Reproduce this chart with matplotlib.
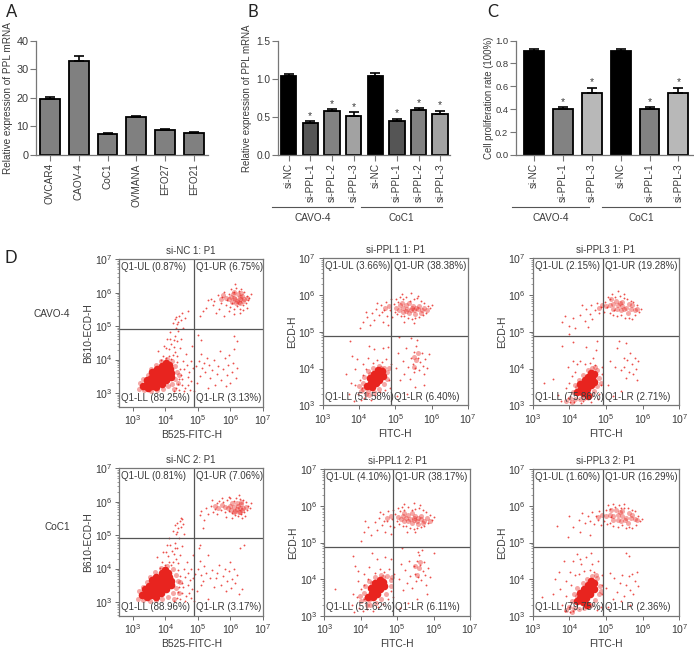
import numpy as np
import matplotlib
matplotlib.use("Agg")
import matplotlib.pyplot as plt
from matplotlib.lines import Line2D
from matplotlib.transforms import blended_transform_factory

plt.rcParams["font.family"] = ["Liberation Sans", "DejaVu Sans"]
plt.rcParams["mathtext.default"] = "regular"

W, H = 694, 650
TXT = "#3a3a3a"
RED = "#e8241f"

# bar charts
a_labels = ["OVCAR4", "CAOV-4", "CoC1", "OVMANA", "EFO27", "EFO21"]
a_values = [19.5, 33.0, 7.5, 13.2, 8.8, 7.8]
a_errors = [0.7, 1.6, 0.3, 0.4, 0.4, 0.3]

b_labels = ["si-NC", "si-PPL-1", "si-PPL-2", "si-PPL-3"] * 2
b_values = [1.03, 0.42, 0.57, 0.51, 1.04, 0.45, 0.59, 0.54]
b_errors = [0.03, 0.02, 0.03, 0.05, 0.03, 0.02, 0.02, 0.04]
b_colors = ["#000000", "#555555", "#828282", "#a2a2a2"] * 2

c_labels = ["si-NC", "si-PPL-1", "si-PPL-3"] * 2
c_values = [0.91, 0.40, 0.54, 0.91, 0.40, 0.54]
c_errors = [0.02, 0.015, 0.045, 0.02, 0.015, 0.045]
c_colors = ["#000000", "#828282", "#b8b8b8"] * 2

# flow panels, log10 values
nc1_core = [(3.3,3.2),(3.42,3.26),(3.54,3.33),(3.66,3.4),(3.78,3.48),(3.9,3.56),(4.02,3.64),(4.14,3.72),(3.42,3.38),(3.54,3.46),(3.66,3.54),(3.78,3.62),(3.9,3.7),(4.02,3.78),(4.1,3.85),(3.6,3.62),(3.75,3.72),(3.9,3.82),(4.02,3.9),(3.45,3.16),(3.58,3.22),(3.7,3.28),(3.82,3.36),(3.94,3.44),(4.06,3.52),(4.18,3.6),(3.72,3.18),(3.88,3.28),(4.02,3.38),(4.16,3.48)]
nc1_mid = [(3.18,3.12),(3.22,3.3),(3.32,3.42),(3.45,3.55),(3.55,3.72),(3.7,3.85),(3.85,3.95),(4.05,4.02),(4.2,3.95),(4.3,3.8),(4.35,3.62),(4.3,3.42),(4.2,3.28),(4.08,3.2),(3.92,3.12),(3.75,3.08),(3.55,3.06),(3.35,3.08),(4.42,3.55),(4.4,3.3),(4.25,3.12),
           (6.12,5.85),(6.2,5.75),(6.3,5.8),(6.35,5.9),(6.42,5.8),(6.22,5.95),(6.02,5.88),(5.85,5.85),(6.3,5.7),(6.15,5.8),(6.25,5.72),(6.28,5.86),(6.38,5.76),(6.08,5.95),(5.95,5.8),(5.78,5.92),(6.18,5.68),(6.5,5.85),(6.12,6.02),(6.32,6.0),(5.7,5.82),(6.05,5.72)]
nc1_dots = [(4.02,4.05),(4.10,4.32),(4.18,4.48),(3.92,4.12),(3.85,3.98),(4.05,4.61),(4.22,4.15),(4.28,4.71),(4.31,4.95),(4.38,5.12),(4.42,5.31),(4.29,5.22),(4.35,5.05),(4.47,5.18),(4.51,5.40),(4.25,4.38),(4.13,4.82),(4.02,4.35),(3.78,4.25),(4.35,4.55),(4.40,4.85),(4.18,4.03),(4.30,4.22),(4.48,4.62),(4.55,4.95),(4.22,5.08),(4.60,5.25),(4.70,5.45),(4.44,4.35),(4.10,4.12),(3.95,4.42),(4.33,5.28),(4.27,4.58),(4.15,4.62),(4.37,4.12),
            (4.45,3.72),(4.52,3.41),(4.61,3.15),(4.72,3.62),(4.38,3.28),(4.65,3.85),(4.80,3.35),(4.55,3.95),(4.42,3.08),(4.75,3.1),(4.85,3.75),(4.48,3.55),(4.68,3.48),(4.58,3.72),(4.32,3.15),(4.88,3.05),(4.25,3.05),(4.78,3.95),(4.62,4.18),(4.82,4.4),(4.5,3.25),(4.35,3.92),(4.7,3.25),(4.41,3.42),(4.57,3.05),
            (5.25,5.55),(5.4,5.82),(5.5,5.75),(5.62,5.92),(5.7,5.7),(5.75,5.88),(5.8,6.02),(5.85,5.62),(5.9,5.78),(5.95,5.95),(6.0,5.58),(6.02,6.1),(6.05,5.7),(6.1,6.02),(6.12,5.52),(6.18,6.15),(6.2,5.6),(6.25,6.05),(6.28,5.5),(6.32,6.12),(6.38,5.62),(6.42,6.02),(6.48,5.68),(6.52,5.9),(6.55,5.78),(6.58,5.85),(6.62,5.95),(5.15,5.45),(5.05,5.3),(5.55,5.4),(5.8,5.3),(6.1,5.35),(6.3,5.38),(5.65,5.5),(5.95,5.45),(6.4,5.48),(6.5,5.55),(5.3,5.78),(5.45,5.62),(6.15,6.25),
            (4.95,3.82),(5.02,3.95),(5.08,4.18),(5.12,3.75),(5.18,3.9),(5.22,3.62),(5.28,4.05),(5.35,3.85),(5.38,3.45),(5.42,3.7),(5.48,4.0),(5.52,3.25),(5.58,3.58),(5.62,3.82),(5.68,4.25),(5.72,3.4),(5.78,3.72),(5.82,4.05),(5.85,3.2),(5.88,3.55),(5.92,3.85),(5.95,4.15),(6.0,3.3),(6.05,3.62),(6.08,3.9),(6.12,4.32),(6.18,3.45),(6.2,3.75),(5.1,4.6),(5.0,4.75),(6.1,4.7),(6.2,4.55),(5.3,3.15),(4.98,3.3),(5.05,3.52)]

nc2_core = [(3.28,3.2),(3.4,3.26),(3.52,3.34),(3.64,3.42),(3.76,3.5),(3.88,3.58),(4.0,3.66),(4.12,3.74),(3.38,3.4),(3.5,3.48),(3.62,3.56),(3.74,3.64),(3.86,3.72),(3.98,3.82),(4.08,3.88),(3.58,3.66),(3.72,3.76),(3.88,3.86),(4.0,3.95),(3.42,3.14),(3.56,3.2),(3.68,3.28),(3.8,3.36),(3.92,3.46),(4.06,3.54),(4.18,3.62),(3.7,3.16),(3.86,3.26),(4.02,3.38),(4.18,3.5)]
nc2_mid = [(3.15,3.1),(3.2,3.32),(3.3,3.46),(3.42,3.6),(3.52,3.76),(3.68,3.9),(3.85,4.02),(4.05,4.08),(4.22,4.0),(4.32,3.82),(4.38,3.62),(4.32,3.42),(4.22,3.26),(4.08,3.16),(3.9,3.1),(3.72,3.06),(3.52,3.04),(3.32,3.06),(4.45,3.6),(4.42,3.28),(4.26,3.1),
           (6.12,5.85),(6.2,5.78),(6.28,5.82),(6.32,5.92),(6.4,5.82),(6.2,5.95),(6.0,5.88),(5.82,5.85),(6.28,5.7),(6.15,5.72),(6.25,5.68),(6.24,5.88),(6.36,5.74),(6.05,5.96),(5.92,5.8),(5.75,5.9),(6.1,5.7),(6.48,5.85),(5.62,5.82),(6.32,6.0),(5.52,5.88),(6.02,5.76)]
nc2_dots = [(4.0,4.12),(4.08,4.38),(4.2,4.52),(3.9,4.2),(3.82,4.02),(4.05,4.7),(4.24,4.2),(4.3,4.78),(4.32,5.02),(4.4,5.2),(4.45,5.42),(4.3,5.3),(4.36,5.1),(4.48,5.25),(4.52,5.48),(4.26,4.44),(4.12,4.9),(4.02,4.5),(3.75,4.35),(4.36,4.62),(4.42,4.92),(4.18,4.1),(4.32,4.3),(4.5,4.68),(4.56,5.02),(4.22,5.12),(4.55,5.32),(4.48,5.52),(4.45,4.42),(4.12,4.2),(3.92,4.5),(4.35,5.36),(4.28,4.62),(4.15,4.7),(4.38,4.18),
            (4.46,3.78),(4.55,3.45),(4.62,3.18),(4.75,3.65),(4.4,3.3),(4.68,3.88),(4.82,3.38),(4.58,3.98),(4.44,3.1),(4.78,3.12),(4.86,3.72),(4.5,3.58),(4.7,3.52),(4.6,3.75),(4.35,3.12),(4.88,3.02),(4.25,3.02),(4.8,3.98),(4.65,4.2),(4.84,4.42),(4.52,3.28),(4.38,3.95),(4.72,3.28),(4.42,3.45),(4.6,3.04),
            (5.1,5.72),(5.25,5.82),(5.4,5.88),(5.52,5.78),(5.6,5.95),(5.7,5.75),(5.78,6.0),(5.82,5.68),(5.9,6.05),(5.95,5.72),(6.0,6.1),(6.05,5.65),(6.1,6.02),(6.15,5.6),(6.18,6.12),(6.22,5.58),(6.28,6.08),(6.32,5.62),(6.38,6.05),(6.42,5.68),(6.48,5.98),(6.52,5.75),(6.55,5.88),(6.6,5.82),(6.62,5.95),(5.05,5.6),(5.18,5.45),(5.15,5.2),(5.65,6.02),(5.75,6.12),(5.85,5.55),(6.05,5.52),(6.25,6.2),(5.95,6.15),(5.45,5.68),(5.58,5.62),(6.45,5.58),(6.35,5.5),(5.3,5.62),(5.42,6.05),
            (4.92,3.85),(5.0,4.0),(5.06,4.22),(5.1,3.8),(5.15,3.62),(5.2,4.08),(5.26,3.88),(5.32,4.42),(5.38,3.72),(5.44,3.95),(5.5,3.45),(5.55,3.72),(5.6,3.88),(5.66,4.12),(5.72,3.52),(5.78,3.78),(5.82,4.0),(5.86,3.32),(5.9,3.62),(5.94,3.92),(5.98,4.2),(6.02,3.42),(6.06,3.7),(6.1,4.0),(6.15,3.58),(6.2,3.82),(6.25,3.25),(5.05,4.7),(5.02,4.62),(6.3,4.62),(6.42,4.72),(5.3,3.1),(4.98,3.32),(5.08,3.5),(6.35,3.4)]

p11_core = [(4.22,3.52),(4.32,3.62),(4.42,3.72),(4.52,3.82),(4.62,3.92),(4.3,3.75),(4.42,3.86),(4.52,3.96),(4.36,3.5),(4.46,3.6),(4.56,3.7),(4.66,3.8)]
p11_mid = [(4.05,3.38),(4.12,3.6),(4.18,3.3),(4.15,3.78),(4.25,3.92),(4.38,4.02),(4.55,4.08),(4.7,4.02),(4.78,3.9),(4.78,3.72),(4.68,3.58),(4.55,3.45),(4.42,3.35),(4.28,3.28),(4.12,3.45),(4.25,3.4),(4.3,3.85),(4.6,4.02),(4.82,4.02),(4.0,3.52),
           (5.12,5.72),(5.22,5.65),(5.32,5.62),(5.42,5.6),(5.52,5.58),(5.62,5.62),(5.72,5.6),(5.3,5.72),(5.48,5.7),(5.65,5.7),(5.2,5.55),(5.38,5.5),(5.55,5.48),(4.82,5.7),(5.02,5.66),(5.1,5.6),(5.28,5.56),(5.45,5.66),(5.58,5.66),(5.7,5.52),(5.8,5.64),(5.88,5.58),(5.18,5.78),(5.38,5.78),(4.72,5.65),
           (5.58,4.22),(5.52,4.05),(5.62,4.42),(5.5,4.32)]
p11_dots = [(3.72,3.3),(3.85,3.12),(3.9,3.55),(3.98,3.3),(4.02,3.68),(4.05,3.15),(4.08,3.48),(4.12,3.82),(4.15,3.2),(4.2,3.98),(4.1,4.12),(3.95,4.25),(4.25,4.3),(4.32,3.15),(4.38,4.15),(4.45,3.28),(4.5,4.22),(4.58,3.35),(4.62,4.18),(4.72,3.42),(4.75,4.25),(4.82,3.7),(4.85,3.48),(4.88,4.12),(4.42,4.52),(3.75,4.75),(3.82,4.35),(4.28,4.62),(4.65,4.55),(4.8,4.6),(3.65,3.85),(3.9,4.0),(3.78,3.62),
            (4.02,5.1),(4.12,5.28),(4.22,5.4),(4.3,5.18),(4.36,5.52),(4.42,5.32),(4.48,5.62),(4.55,5.45),(4.6,5.72),(4.65,5.28),(4.7,5.58),(4.75,5.82),(4.78,5.42),(4.85,5.6),(4.88,5.88),(4.62,5.55),(4.5,5.78),(4.8,5.18),(4.18,5.55),(4.92,5.4),
            (4.95,5.75),(5.0,5.55),(5.02,5.9),(5.05,5.48),(5.08,5.82),(5.12,5.95),(5.16,5.42),(5.2,5.88),(5.25,5.42),(5.3,5.95),(5.35,5.38),(5.4,5.85),(5.45,5.35),(5.5,5.88),(5.55,5.38),(5.6,5.92),(5.65,5.4),(5.7,5.85),(5.75,5.45),(5.8,5.78),(5.85,5.52),(5.9,5.7),(5.95,5.65),(6.02,5.72),(5.18,6.02),(5.42,6.05),(5.62,5.98),(5.25,5.28),(5.5,5.25),
            (5.02,4.02),(5.08,4.42),(5.12,3.68),(5.2,4.2),(5.25,3.85),(5.3,4.55),(5.35,4.05),(5.4,3.72),(5.44,4.3),(5.48,4.12),(5.5,3.9),(5.52,4.45),(5.55,4.02),(5.58,4.62),(5.62,4.3),(5.65,3.95),(5.68,4.18),(5.72,4.42),(5.75,4.08),(5.78,3.85),(5.82,4.25),(5.88,4.02),(5.42,4.82),(5.1,4.85),(5.6,4.78),(5.32,3.3),(5.55,3.5),(5.05,3.25),(5.8,3.55),(5.92,4.4)]

p12_core = [(4.2,3.52),(4.3,3.62),(4.4,3.72),(4.5,3.82),(4.6,3.92),(4.28,3.76),(4.4,3.88),(4.52,3.98),(4.34,3.5),(4.44,3.6),(4.54,3.72),(4.64,3.82)]
p12_mid = [(4.02,3.4),(4.1,3.62),(4.16,3.3),(4.12,3.8),(4.24,3.95),(4.38,4.05),(4.55,4.12),(4.72,4.08),(4.82,3.98),(4.82,3.8),(4.7,3.6),(4.55,3.45),(4.42,3.35),(4.26,3.28),(4.12,3.46),(4.24,3.42),(4.3,3.88),(4.62,4.06),(4.86,4.05),(3.98,3.55),
           (5.15,5.72),(5.25,5.68),(5.35,5.65),(5.45,5.62),(5.55,5.6),(5.65,5.64),(5.75,5.6),(5.3,5.75),(5.48,5.72),(5.65,5.72),(5.2,5.6),(5.4,5.52),(5.58,5.5),(4.82,5.72),(5.02,5.7),(5.1,5.64),(5.3,5.58),(5.45,5.68),(5.58,5.68),(5.72,5.54),(5.82,5.66),(5.9,5.6),(5.2,5.8),(5.4,5.8),(4.72,5.68),
           (5.6,4.3),(5.54,4.1),(5.64,4.48),(5.5,4.36)]
p12_dots = [(3.75,3.3),(3.82,3.1),(3.9,3.5),(3.95,3.22),(4.0,3.72),(4.05,3.12),(4.08,3.45),(4.1,3.85),(4.16,3.18),(4.2,4.0),(4.08,4.15),(3.92,4.22),(4.22,4.32),(4.35,3.12),(4.4,4.18),(4.48,3.25),(4.52,4.28),(4.6,3.32),(4.65,4.2),(4.74,3.45),(4.78,4.28),(4.84,3.68),(4.88,3.5),(4.9,4.15),(4.45,4.55),(3.78,4.62),(3.85,4.35),(4.3,4.7),(4.68,4.6),(4.82,4.55),(3.3,3.72),(3.92,3.95),(3.8,3.6),
            (4.0,5.05),(4.1,5.3),(4.2,5.42),(4.28,5.2),(4.38,5.55),(4.45,5.35),(4.5,5.68),(4.58,5.48),(4.62,5.78),(4.68,5.3),(4.72,5.6),(4.76,5.85),(4.8,5.45),(4.86,5.65),(4.88,5.9),(4.65,5.58),(4.52,5.82),(4.82,5.22),(4.12,5.58),(4.92,5.42),
            (4.95,5.78),(5.0,5.58),(5.02,5.95),(5.05,5.5),(5.08,5.85),(5.12,5.98),(5.16,5.45),(5.2,5.9),(5.25,5.45),(5.3,5.98),(5.35,5.4),(5.4,5.9),(5.45,5.38),(5.5,5.92),(5.55,5.4),(5.6,5.95),(5.65,5.42),(5.7,5.88),(5.75,5.45),(5.8,5.82),(5.85,5.52),(5.9,5.75),(5.95,5.62),(6.02,5.7),(5.2,6.05),(5.45,6.08),(5.62,6.02),(5.28,5.3),(5.5,5.28),
            (5.05,4.0),(5.1,4.4),(5.15,3.7),(5.22,4.25),(5.28,3.9),(5.32,4.5),(5.36,4.08),(5.42,3.75),(5.46,4.35),(5.5,4.15),(5.52,3.95),(5.55,4.5),(5.58,4.05),(5.6,4.65),(5.62,4.38),(5.66,3.98),(5.7,4.22),(5.74,4.48),(5.76,4.12),(5.8,3.85),(5.84,4.3),(5.9,4.05),(5.68,4.8),(5.12,4.85),(5.58,4.75),(5.3,3.35),(5.55,3.45),(5.08,3.2),(5.82,3.58),(6.0,4.72)]

p31_core = [(4.22,3.36),(4.32,3.44),(4.42,3.54),(4.52,3.64),(4.62,3.74),(4.68,3.84),(4.3,3.58),(4.42,3.68),(4.52,3.78),(4.6,3.88),(4.38,3.34),(4.48,3.44),(4.58,3.54),(4.68,3.64),(4.5,3.26)]
p31_mid = [(4.02,3.2),(4.1,3.36),(4.15,3.18),(4.15,3.55),(4.25,3.7),(4.38,3.82),(4.5,3.95),(4.62,4.02),(4.76,3.95),(4.82,3.75),(4.76,3.52),(4.68,3.38),(4.58,3.28),(4.4,3.2),(4.28,3.16),(3.92,3.12),(4.08,3.08),(4.22,3.5),(4.7,4.05),(4.85,3.6),
           (5.1,5.72),(5.2,5.75),(5.32,5.72),(5.45,5.7),(5.55,5.66),(5.68,5.62),(5.78,5.6),(5.28,5.85),(5.45,5.82),(5.62,5.76),(5.2,5.62),(5.4,5.58),(5.6,5.52),(5.0,5.7),(5.38,5.78),(5.5,5.62),(5.72,5.72),(5.84,5.62),(5.15,5.88),(5.3,5.62),(4.8,5.65),(4.9,5.72)]
p31_dots = [(3.7,3.28),(3.78,3.12),(3.9,3.48),(3.95,3.2),(4.0,3.62),(4.02,3.08),(4.08,3.8),(4.12,3.1),(4.16,3.9),(4.22,4.12),(4.1,4.2),(3.95,4.05),(4.3,4.2),(4.38,3.12),(4.42,4.12),(4.55,4.15),(4.7,4.1),(4.82,3.3),(4.85,3.55),(4.88,4.05),(4.65,4.3),(4.45,4.6),(4.1,4.72),(4.0,4.95),(3.3,3.62),(3.55,3.72),(3.8,4.62),(4.72,4.5),(4.32,3.05),(4.6,3.1),(4.78,3.18),(4.9,3.85),(4.75,4.75),
            (3.8,5.28),(3.88,5.42),(4.0,5.15),(4.1,5.38),(4.15,5.1),(4.3,5.45),(4.42,5.3),(4.45,5.62),(4.55,5.48),(4.6,5.72),(4.62,5.35),(4.7,5.6),(4.75,5.78),(4.8,5.5),(4.85,5.68),(4.35,5.72),(4.5,5.12),
            (4.95,5.55),(4.98,5.82),(5.02,5.68),(5.05,5.95),(5.1,5.5),(5.12,5.88),(5.16,6.02),(5.2,5.45),(5.25,5.95),(5.3,5.42),(5.33,6.12),(5.38,5.98),(5.42,5.45),(5.48,5.92),(5.52,5.38),(5.58,5.9),(5.62,5.38),(5.68,5.85),(5.72,5.35),(5.75,5.8),(5.8,5.45),(5.85,5.72),(5.9,5.55),(5.95,5.62),(5.22,5.58),(5.5,6.02),
            (5.1,4.2),(5.25,4.05),(5.3,4.55),(5.42,3.95),(5.48,4.3),(5.5,4.05),(5.55,3.75),(5.58,4.22),(5.62,3.9),(5.66,4.42),(5.7,4.12),(5.74,3.85),(5.78,4.3),(5.82,4.0),(5.85,3.68),(5.88,4.2),(5.35,4.75),(5.55,4.7),(5.2,3.25),(5.05,3.55),(5.4,3.4)]

p32_core = [(4.2,3.4),(4.3,3.48),(4.4,3.58),(4.5,3.68),(4.6,3.8),(4.68,3.9),(4.28,3.62),(4.4,3.72),(4.5,3.84),(4.6,3.94),(4.36,3.38),(4.46,3.48),(4.56,3.6),(4.68,3.72),(4.48,3.3)]
p32_mid = [(4.0,3.24),(4.08,3.4),(4.12,3.2),(4.12,3.6),(4.22,3.76),(4.36,3.88),(4.48,4.0),(4.62,4.08),(4.76,4.02),(4.84,3.82),(4.8,3.6),(4.7,3.42),(4.58,3.3),(4.4,3.22),(4.26,3.18),(3.92,3.16),(4.06,3.1),(4.2,3.55),(4.72,4.12),(4.86,3.68),
           (5.1,5.75),(5.2,5.72),(5.32,5.76),(5.45,5.72),(5.55,5.66),(5.68,5.68),(5.78,5.65),(5.28,5.88),(5.45,5.86),(5.62,5.8),(5.2,5.62),(5.42,5.58),(5.6,5.54),(5.0,5.72),(5.38,5.82),(5.52,5.62),(5.72,5.74),(5.85,5.62),(5.15,5.9),(5.32,5.62),(4.78,5.7),(4.9,5.76)]
p32_dots = [(3.8,3.3),(3.88,3.12),(3.92,3.55),(3.98,3.25),(3.75,3.72),(4.02,3.1),(4.05,3.85),(4.1,3.12),(3.9,3.95),(4.02,4.2),(4.15,4.1),(3.72,4.2),(4.25,4.15),(4.32,4.42),(4.1,4.5),(4.4,4.22),(4.55,4.25),(4.68,4.2),(4.85,3.25),(4.88,3.6),(4.9,4.1),(4.62,4.4),(4.45,4.6),(4.2,4.68),(3.55,3.6),(3.25,3.52),(3.6,4.0),(4.78,4.5),(3.85,4.5),(4.6,4.7),(4.75,3.15),(4.88,3.85),(4.3,4.55),
            (3.65,5.45),(3.95,5.15),(4.0,5.72),(4.1,5.42),(4.25,5.62),(4.35,5.8),(4.42,5.52),(4.5,5.72),(4.55,5.6),(4.62,5.82),(4.68,5.5),(4.72,5.72),(4.78,5.62),(4.82,5.85),(4.85,5.48),(4.3,5.3),(4.55,5.2),
            (4.95,5.6),(5.0,5.88),(5.02,5.5),(5.05,6.02),(5.1,5.52),(5.12,5.92),(5.18,6.05),(5.2,5.45),(5.25,5.98),(5.32,5.42),(5.36,6.02),(5.4,5.95),(5.44,5.48),(5.5,5.95),(5.55,5.4),(5.6,5.95),(5.64,5.42),(5.7,5.88),(5.72,5.4),(5.78,5.85),(5.82,5.48),(5.88,5.72),(5.92,5.58),(5.98,5.65),(5.15,5.7),(5.5,6.05),
            (5.0,3.75),(5.1,4.18),(5.22,4.02),(5.3,3.65),(5.38,3.9),(5.45,4.12),(5.5,3.55),(5.55,3.85),(5.62,4.08),(5.66,3.7),(5.7,4.15),(5.75,3.6),(5.8,3.95),(5.85,4.2),(5.88,3.82),(5.55,4.7),(5.62,4.62),(5.05,3.25),(5.2,3.45),(5.4,3.4),(5.65,3.3)]

flow_titles = ["si-NC 1: P1", "si-PPL1 1: P1", "si-PPL3 1: P1", "si-NC 2: P1", "si-PPL1 2: P1", "si-PPL3 2: P1"]
flow_xlabels = ["B525-FITC-H", "FITC-H", "FITC-H"] * 2
flow_ylabels = ["B610-ECD-H", "ECD-H", "ECD-H"] * 2
q_ul = ["0.87", "3.66", "2.15", "0.81", "4.10", "1.60"]
q_ur = ["6.75", "38.38", "19.28", "7.06", "38.17", "16.29"]
q_ll = ["89.25", "51.58", "75.86", "88.96", "51.62", "79.75"]
q_lr = ["3.13", "6.40", "2.71", "3.17", "6.11", "2.36"]
flow_core = [nc1_core, p11_core, p31_core, nc2_core, p12_core, p32_core]
flow_mid = [nc1_mid, p11_mid, p31_mid, nc2_mid, p12_mid, p32_mid]
flow_dots = [nc1_dots, p11_dots, p31_dots, nc2_dots, p12_dots, p32_dots]


def px_axes(left, top, right, bottom):
    return fig.add_axes([left / W, 1 - bottom / H, (right - left) / W, (bottom - top) / H])


def fig_text(x, y, s, **kw):
    fig.text(x / W, 1 - y / H, s, color=TXT, **kw)


def bar_panel(box, xlim, values, errors, labels, colors, ymax, yticks, ylabel, width, stars, ylab_x, tick_fs, ylab_fs):
    ax = px_axes(*box)
    x = np.arange(len(values))
    ax.bar(x, values, width=width, color=colors, edgecolor="black", linewidth=1.3)
    ax.errorbar(x, values, yerr=[np.zeros(len(errors)), errors], fmt="none", ecolor="black",
                elinewidth=1.2, capsize=3.5, capthick=1.2)
    for i in stars:
        ax.text(i, values[i] + errors[i] + ymax * 0.005, "*", ha="center", va="bottom", fontsize=7.5, color=TXT)
    ax.set_xlim(*xlim)
    ax.set_ylim(0, ymax)
    ax.set_xticks(x)
    ax.set_xticklabels(labels, rotation=90)
    ax.set_yticks(yticks)
    ax.tick_params(colors=TXT, labelsize=tick_fs, length=4, width=0.8, color="#777777", pad=1.5)
    ax.tick_params(axis="x", labelsize=7.2, pad=2)
    for s in ["top", "right"]:
        ax.spines[s].set_visible(False)
    for s in ["left", "bottom"]:
        ax.spines[s].set_color("#777777")
        ax.spines[s].set_linewidth(0.9)
    fig_text(ylab_x, 98, ylabel, rotation=90, ha="center", va="center", fontsize=ylab_fs)
    return ax


def flow_panel(i, box, xmin, ymin, gx, gy):
    ax = px_axes(*box)
    ax.set_xscale("log")
    ax.set_yscale("log")
    dots = np.array(flow_dots[i])
    mid = np.array(flow_mid[i])
    core = np.array(flow_core[i])
    ax.scatter(10.0 ** dots[:, 0], 10.0 ** dots[:, 1], s=1.8, color=RED, alpha=0.8, linewidths=0)
    ax.scatter(10.0 ** mid[:, 0], 10.0 ** mid[:, 1], s=13, color=RED, alpha=0.4, linewidths=0)
    ax.scatter(10.0 ** core[:, 0], 10.0 ** core[:, 1], s=30, color=RED, linewidths=0)
    ax.axvline(10.0 ** gx, color="#555555", lw=0.9)
    ax.axhline(10.0 ** gy, color="#555555", lw=0.9)
    ax.set_xlim(10.0 ** xmin, 1e7)
    ax.set_ylim(10.0 ** ymin, 1e7)
    ax.set_xticks([1e3, 1e4, 1e5, 1e6, 1e7])
    ax.set_yticks([1e3, 1e4, 1e5, 1e6, 1e7])
    ax.tick_params(which="major", colors=TXT, labelsize=7.6, length=3, width=0.6, color="#555555", pad=2)
    ax.tick_params(which="minor", length=1.5, width=0.4, color="#555555")
    for s in ax.spines.values():
        s.set_color("#777777")
        s.set_linewidth(0.9)
    ax.set_title(flow_titles[i], fontsize=7, color=TXT, pad=4)
    ax.set_xlabel(flow_xlabels[i], fontsize=7.4, color=TXT, labelpad=2)
    ax.set_ylabel(flow_ylabels[i], fontsize=7.4, color=TXT, labelpad=1)
    tr = blended_transform_factory(ax.transData, ax.transAxes)
    fs = 7.0
    ax.text(0.015, 0.945, "Q1-UL (%s%%)" % q_ul[i], transform=ax.transAxes, va="center", fontsize=fs, color=TXT)
    ax.text(0.015, 0.058, "Q1-LL (%s%%)" % q_ll[i], transform=ax.transAxes, va="center", fontsize=fs, color=TXT)
    ax.text(10.0 ** (gx + 0.06), 0.945, "Q1-UR (%s%%)" % q_ur[i], transform=tr, va="center", fontsize=fs, color=TXT)
    ax.text(10.0 ** (gx + 0.06), 0.058, "Q1-LR (%s%%)" % q_lr[i], transform=tr, va="center", fontsize=fs, color=TXT)
    return ax


fig = plt.figure(figsize=(W / 100, H / 100), dpi=100)

bar_panel((36, 40.5, 208, 155), (-0.486, 5.49), a_values, a_errors, a_labels, ["#808080"] * 6, 40,
          [0, 10, 20, 30, 40], "Relative expression of PPL mRNA", 0.69, [], 8, 7.8, 7.2)
bar_panel((278, 40.5, 450, 155), (-0.494, 7.45), b_values, b_errors, b_labels, b_colors, 1.5,
          [0.0, 0.5, 1.0, 1.5], "Relative expression of PPL mRNA", 0.72, [1, 2, 3, 5, 6, 7], 247, 7.3, 7.0)
bar_panel((516, 40.5, 694, 155), (-0.623, 5.54), c_values, c_errors, c_labels, c_colors, 1.0,
          [0.0, 0.2, 0.4, 0.6, 0.8, 1.0], "Cell proliferation rate (100%)", 0.69, [1, 2, 4, 5], 489.5, 6.8, 6.9)

# group lines under B and C
for x0, x1, name in [(272, 353, "CAVO-4"), (361, 442, "CoC1"), (512, 589, "CAVO-4"), (602, 680, "CoC1")]:
    fig.add_artist(Line2D([x0 / W, x1 / W], [1 - 207 / H, 1 - 207 / H], color="#555555", lw=0.8))
    fig_text((x0 + x1) / 2, 218, name, ha="center", va="center", fontsize=7.2)

flow_panel(0, (119.3, 259.3, 263, 406.7), 2.58, 2.59, 4.88, 4.92)
flow_panel(1, (322.7, 258.3, 468, 405.3), 3, 3, 4.89, 4.885)
flow_panel(2, (532.7, 258.3, 679.3, 405.3), 3, 3, 4.91, 4.885)
flow_panel(3, (119.3, 468.3, 263, 615.7), 2.58, 2.59, 4.88, 4.92)
flow_panel(4, (324.3, 469.3, 470, 615.7), 3, 3, 4.89, 4.885)
flow_panel(5, (532.7, 469.3, 679.3, 615.7), 3, 3, 4.91, 4.885)

fig_text(70, 314, "CAVO-4", ha="right", va="center", fontsize=7.2)
fig_text(70, 527, "CoC1", ha="right", va="center", fontsize=7.2)

for x, y, letter in [(6, 12, "A"), (247, 12, "B"), (487, 12, "C"), (5, 258, "D")]:
    fig.text(x / W, 1 - y / H, letter, fontsize=12, color="#222222", family="Lato", ha="left", va="center")

fig.savefig("out.png", dpi=100)
